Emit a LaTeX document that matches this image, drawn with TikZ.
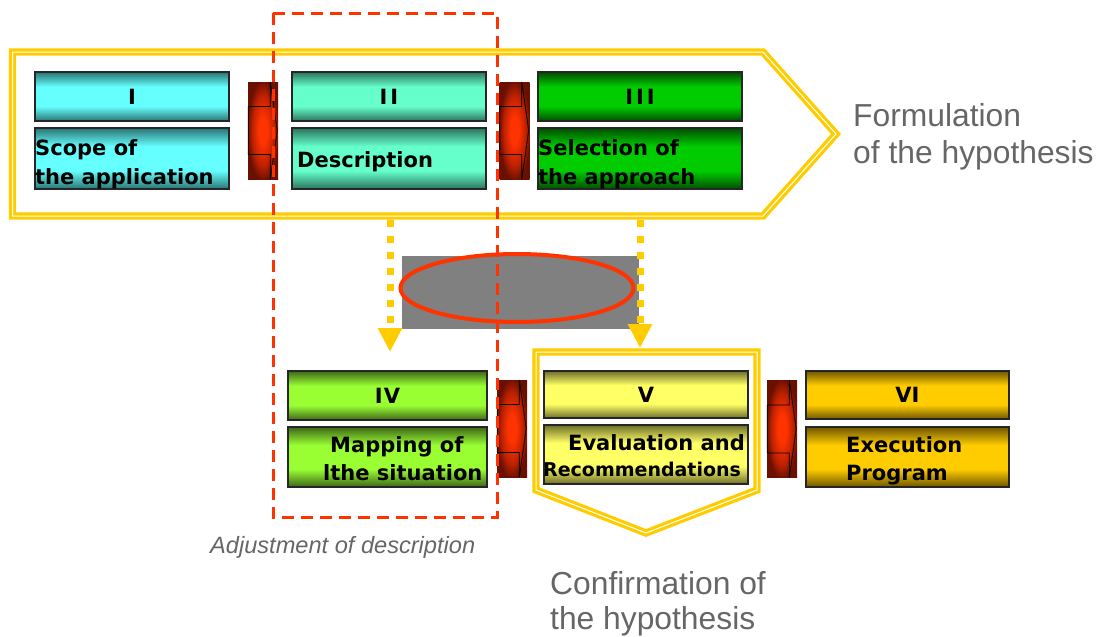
\documentclass[tikz,border=0pt]{standalone}
\usepackage{fontspec}
\newfontfamily\boxfont{DejaVu Sans}
\newfontfamily\capfont{Liberation Sans}
\usetikzlibrary{arrows.meta,shapes.geometric}

\definecolor{hypyellow}{HTML}{FFCC00}
\definecolor{flowred}{HTML}{FF3300}
\definecolor{chevmid}{HTML}{C02200}
\definecolor{chevdark}{HTML}{6A1000}
\definecolor{capgray}{HTML}{666666}
\definecolor{gapgray}{HTML}{808080}

\definecolor{cyanD}{HTML}{2A7373}\definecolor{cyanB}{HTML}{66FFFF}
\definecolor{mintD}{HTML}{2A735C}\definecolor{mintB}{HTML}{66FFCC}
\definecolor{greenD}{HTML}{004D00}\definecolor{greenB}{HTML}{00CC00}
\definecolor{limeD}{HTML}{3E6618}\definecolor{limeB}{HTML}{99FF33}
\definecolor{lemonD}{HTML}{6E6E2A}\definecolor{lemonB}{HTML}{FFFF66}
\definecolor{goldD}{HTML}{6E5600}\definecolor{goldB}{HTML}{FFCC00}

% vertical shading: dark rims, bright band in the middle
\newcommand\stageshading[3]{\pgfdeclareverticalshading{#1}{100bp}{%
  color(0bp)=(#2); color(25bp)=(#2); color(40bp)=(#3); color(60bp)=(#3);
  color(75bp)=(#2); color(100bp)=(#2)}}
\stageshading{shCyan}{cyanD}{cyanB}
\stageshading{shMint}{mintD}{mintB}
\stageshading{shGreen}{greenD}{greenB}
\stageshading{shLime}{limeD}{limeB}
\stageshading{shLemon}{lemonD}{lemonB}
\stageshading{shGold}{goldD}{goldB}

% glowing red body of the step arrows
\pgfdeclareradialshading{chevglow}{\pgfpoint{0bp}{0bp}}{%
  color(0bp)=(flowred); color(7bp)=(flowred); color(18bp)=(chevmid);
  color(26bp)=(chevdark); color(50bp)=(chevdark)}

\newcommand\stagefont{\boxfont\bfseries\fontsize{21}{25}\selectfont}

% outline of the notched arrow inside a step node
\newcommand\chevline[1]{%
  \draw[chevoutline] ([shift={(0.5,-24)}]#1.west) -- ([shift={(22.5,-24)}]#1.west)
    -- ([shift={(22.5,0)}]#1.north west) -- ([shift={(-1,0)}]#1.east)
    -- ([shift={(22.5,0)}]#1.south west) -- ([shift={(22.5,24)}]#1.west)
    -- ([shift={(0.5,24)}]#1.west) -- cycle;}

\tikzset{
  hypframe/.style={draw=hypyellow, line width=3.2pt, double=white,
    double distance=1pt, line join=miter},
  stage/.style={draw=black!85, line width=1.3pt, inner sep=0pt,
    font=\stagefont, text=black},
  boxtext/.style={anchor=base west, inner sep=0pt, font=\stagefont},
  chevron/.style={minimum width=30pt, minimum height=97pt, inner sep=0pt,
    shading=chevglow},
  chevoutline/.style={draw=black, line width=0.7pt, line join=miter},
  dotarrow/.style={draw=hypyellow, line width=7pt, dash pattern=on 7pt off 9pt,
    -{Triangle[width=23pt,length=24pt]}},
  adjframe/.style={draw=flowred, line width=3pt, dash pattern=on 12pt off 7pt},
  caption/.style={anchor=base west, inner sep=0pt, text=capgray,
    font=\capfont\fontsize{31.8}{36}\selectfont},
}

\begin{document}
\begin{tikzpicture}[x=1pt, y=-1pt]
\useasboundingbox (0,0) rectangle (1101,637);

% the two hypothesis frames
\draw[hypframe] (12.5,52) -- (763,52) -- (836,134) -- (763,216) -- (12.5,216) -- cycle;
\draw[hypframe] (536,352) -- (757,352) -- (757,490) -- (646,533) -- (536,490) -- cycle;

% stage I
\node[stage, shading=shCyan, minimum width=194pt, minimum height=49pt] (s1) at (132,96.5) {I};
\node[stage, shading=shCyan, minimum width=194pt, minimum height=61pt] (d1) at (132,158.5) {};
\node[boxtext] (d1a) at (35,155) {Scope of};
\node[boxtext] (d1b) at (35,184) {the application};

% stage II
\node[stage, shading=shMint, minimum width=194pt, minimum height=49pt] (s2) at (389,96.5) {I\kern3pt I};
\node[stage, shading=shMint, minimum width=194pt, minimum height=61pt] (d2) at (389,158.5) {};
\node[boxtext] (d2a) at (297,167) {Description};

% stage III
\node[stage, shading=shGreen, minimum width=204pt, minimum height=49pt] (s3) at (640,96.5) {I\kern3pt I\kern3pt I};
\node[stage, shading=shGreen, minimum width=204pt, minimum height=61pt] (d3) at (640,158.5) {};
\node[boxtext] (d3a) at (538,155) {Selection of};
\node[boxtext] (d3b) at (538,184) {the approach};

% stage IV
\node[stage, shading=shLime, minimum width=199pt, minimum height=49pt] (s4) at (387.5,395.5) {I\kern1pt V};
\node[stage, shading=shLime, minimum width=199pt, minimum height=60pt] (d4) at (387.5,457) {};
\node[boxtext] (d4a) at (330,452) {Mapping of};
\node[boxtext] (d4b) at (323,480) {lthe situation};

% stage V
\node[stage, shading=shLemon, minimum width=204pt, minimum height=47pt] (s5) at (646,394.5) {V};
\node[stage, shading=shLemon, minimum width=204pt, minimum height=59pt] (d5) at (646,454.5) {};
\node[boxtext] (d5a) at (568,450) {Evaluation and};
\node[boxtext, font=\boxfont\bfseries\fontsize{19}{23}\selectfont] (d5b) at (543,476) {Recommendations};

% stage VI
\node[stage, shading=shGold, minimum width=203pt, minimum height=48pt] (s6) at (907.5,395) {VI};
\node[stage, shading=shGold, minimum width=203pt, minimum height=60pt] (d6) at (907.5,457) {};
\node[boxtext] (d6a) at (846,452) {Execution};
\node[boxtext] (d6b) at (846,480) {Program};

% step arrows between stages
\node[chevron] (c12) at (263,130.5) {};
\node[chevron] (c23) at (514.5,130.5) {};
\node[chevron] (c45) at (512,428.5) {};
\node[chevron] (c56) at (782,429) {};
\chevline{c12}
\chevline{c23}
\chevline{c45}
\chevline{c56}

% gap with its marked region
\node[fill=gapgray, minimum width=237pt, minimum height=73pt, inner sep=0pt] (gap) at (520.5,292.5) {};
\node[ellipse, draw=flowred, line width=4pt, minimum width=233pt, minimum height=68pt, inner sep=0pt] (focus) at (517,288) {};

% dotted hand-over arrows
\coordinate (h1) at (390,220);
\coordinate (m4) at (390,352);
\coordinate (h3) at (640,220);
\coordinate (m5) at (640,348);
\draw[dotarrow] (h1) -- (m4);
\draw[dotarrow] (h3) -- (m5);

% adjustment loop around description and mapping
\draw[adjframe] (273,13) rectangle (497,517);

% captions
\node[caption] (f1) at (853,126) {Formulation};
\node[caption] (f2) at (853,163) {of the hypothesis};
\node[caption] (k1) at (550,594) {Confirmation of};
\node[caption] (k2) at (550,629) {the hypothesis};
\node[anchor=base west, inner sep=0pt, text=capgray,
  font=\capfont\itshape\fontsize{23.6}{27}\selectfont] (adj) at (210,553) {Adjustment of description};
\end{tikzpicture}
\end{document}
